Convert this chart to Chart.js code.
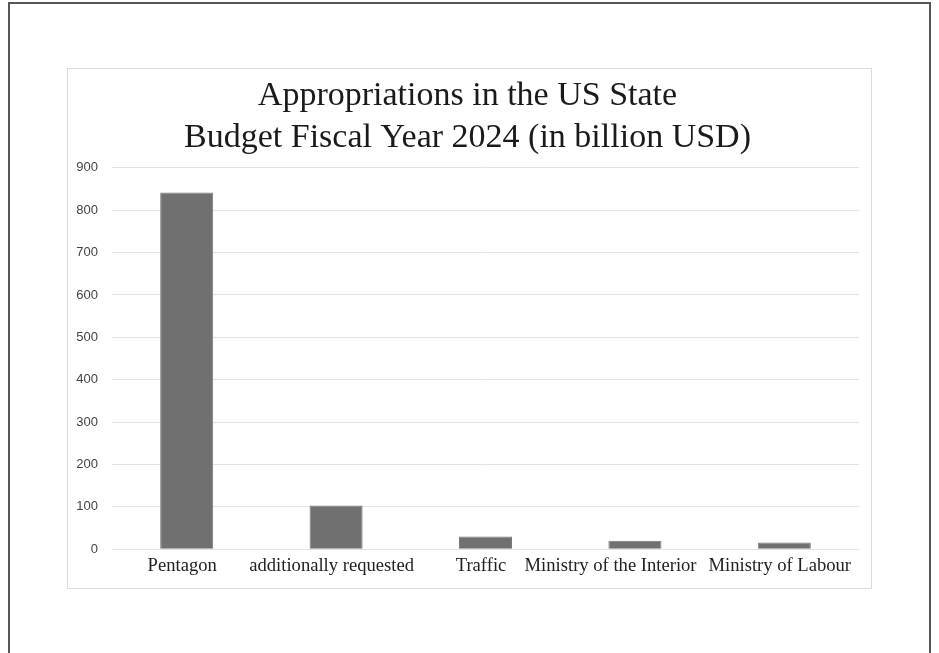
<!DOCTYPE html>
<html>
<head>
<meta charset="utf-8">
<script src="https://cdn.jsdelivr.net/npm/chart.js@4"></script>
<style>
  body { margin: 0; background: #fff; }
  #frame {
    position: absolute; left: 8px; top: 2px; width: 923px; height: 700px;
    border: 2px solid #555; box-sizing: border-box;
  }
  #box {
    position: absolute; left: 67px; top: 68px; width: 805px; height: 521px;
    border: 1px solid #dcdcdc; box-sizing: border-box; background: #fff;
  }
  #box canvas { display: block; }
</style>
</head>
<body>
<div id="frame"></div>
<div id="box"><canvas id="myChart" width="803" height="519"></canvas></div>
<script>
// Chart data
const categories = ["Pentagon", "additionally requested", "Traffic", "Ministry of the Interior", "Ministry of Labour"];
const amounts = [842, 103, 30, 20, 16];
const titleLines = ["Appropriations in the US State", "Budget Fiscal Year 2024 (in billion USD)"];

// Push overlapping x labels to the left, the way the spreadsheet did
const labelSpreader = {
  id: 'labelSpreader',
  beforeDraw(chart) {
    const scale = chart.scales.x;
    const items = scale.getLabelItems();
    if (items._spread) return;
    const ctx = chart.ctx;
    const gap = 12;
    let limit = Infinity;
    for (let i = items.length - 1; i >= 0; i--) {
      const item = items[i];
      ctx.save();
      ctx.font = item.font.string;
      const w = ctx.measureText(item.label).width;
      ctx.restore();
      let x = item.options.translation[0];
      if (x + w / 2 > limit - gap) {
        x = limit - gap - w / 2;
        item.options.translation[0] = x;
      }
      limit = x - w / 2;
    }
    items._spread = true;
  }
};

const ctx = document.getElementById('myChart').getContext('2d');
new Chart(ctx, {
  type: 'bar',
  data: {
    labels: categories,
    datasets: [
      {
        label: 'in billion USD',
        data: amounts,
        backgroundColor: '#707070',
        borderColor: '#7a7a7a',
        borderWidth: 1,
        categoryPercentage: 1,
        barPercentage: 0.355
      }
    ]
  },
  options: {
    responsive: false,
    animation: false,
    layout: {
      padding: { left: 8, right: 12, top: 0, bottom: 4.5 }
    },
    scales: {
      y: {
        min: 0,
        max: 900,
        afterFit: (scale) => { scale.width = 36; }, // keep the axis narrow like the original
        ticks: {
          stepSize: 100,
          padding: 14,
          color: '#444',
          font: { family: 'Liberation Sans', size: 13 }
        },
        grid: { color: '#e2e2e2', lineWidth: 1, drawTicks: false },
        border: { display: false }
      },
      x: {
        ticks: {
          color: '#222',
          padding: 6,
          labelOffset: -4.5,
          maxRotation: 0,
          autoSkip: false,
          font: { family: 'Liberation Serif', size: 18.6 }
        },
        grid: { display: false, drawTicks: false },
        border: { display: false }
      }
    },
    plugins: {
      legend: { display: false },
      tooltip: { enabled: false },
      title: {
        display: true,
        text: titleLines,
        color: '#1a1a1a',
        padding: { top: 5.5, bottom: 9 },
        font: { family: 'Liberation Serif', size: 34, weight: 'normal', lineHeight: 1.24 }
      }
    }
  },
  plugins: [labelSpreader]
});
</script>
</body>
</html>
